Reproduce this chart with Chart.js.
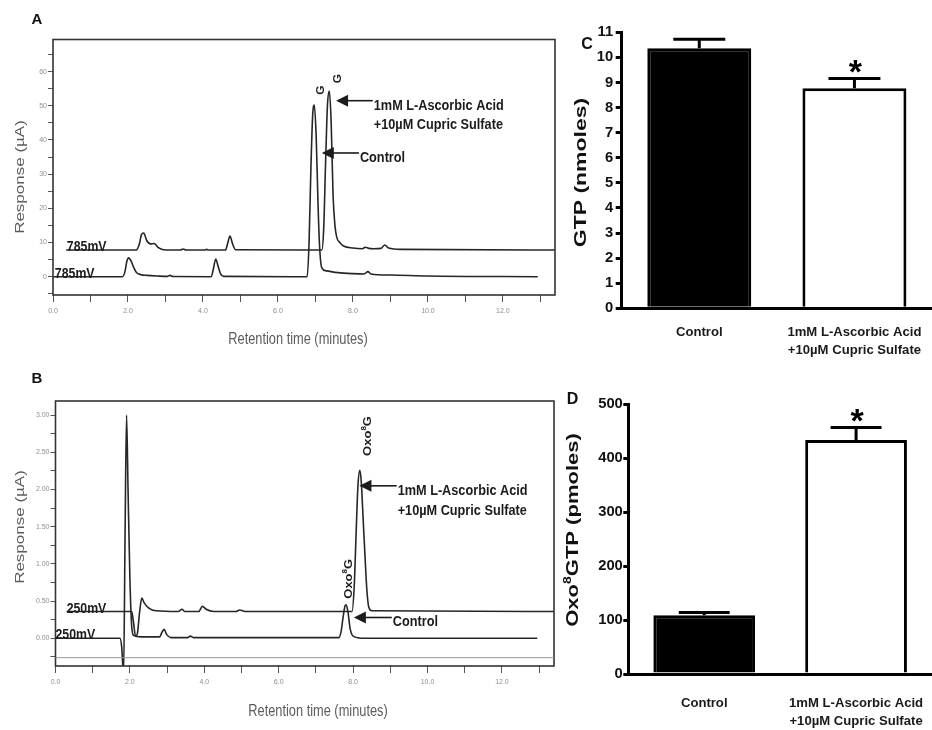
<!DOCTYPE html>
<html><head><meta charset="utf-8">
<script src="https://cdn.jsdelivr.net/npm/chart.js@4.4.1/dist/chart.umd.min.js"></script>
<style>
html,body{margin:0;padding:0;background:#fff;}
#fig{position:relative;width:932px;height:730px;overflow:hidden;background:#fff;}
#fig canvas{position:absolute;}
</style></head><body>
<div id="fig">
<canvas id="chartA" width="560" height="365" style="left:0;top:0;width:560px;height:365px"></canvas>
<canvas id="chartB" width="560" height="365" style="left:0;top:365px;width:560px;height:365px"></canvas>
<canvas id="chartC" width="372" height="365" style="left:560px;top:0;width:372px;height:365px"></canvas>
<canvas id="chartD" width="372" height="365" style="left:560px;top:365px;width:372px;height:365px"></canvas>
</div>
<script>
// ---------------- Panel A : chromatogram, 785 mV ----------------
const aControlTime = [0, 1.85, 1.92, 1.97, 2.02, 2.08, 2.15, 2.22, 2.35, 2.5, 2.8, 3.05, 3.12, 3.2, 4.22, 4.28, 4.34, 4.4, 4.47, 4.55, 6.78, 6.83, 6.88, 6.93, 6.97, 7.02, 7.07, 7.11, 7.17, 7.3, 7.6, 8.0, 8.3, 8.4, 8.48, 9.0, 10.0, 12.93];
const aControlResp = [0, 0, 1.5, 4.5, 5.5, 4.6, 2.8, 1.3, 0.6, 0.4, 0.2, 0.1, 0.4, 0.05, 0, 2.4, 5.2, 3.2, 0.8, 0.1, 0, 10, 32, 48, 50.2, 41, 21, 9, 2.6, 1.7, 1.2, 0.9, 0.8, 1.5, 0.8, 0.5, 0.2, 0];
const aTreatedTime = [0.35, 2.22, 2.3, 2.36, 2.42, 2.5, 2.6, 2.7, 2.8, 2.95, 3.4, 3.47, 3.55, 4.05, 4.1, 4.15, 4.6, 4.66, 4.72, 4.79, 4.87, 7.17, 7.22, 7.27, 7.32, 7.37, 7.42, 7.47, 7.52, 7.57, 7.65, 7.75, 8.0, 8.25, 8.33, 8.42, 8.55, 8.75, 8.85, 8.95, 9.3, 13.4];
const aTreatedResp = [7.8, 7.8, 9.4, 12.3, 12.8, 10.6, 9.6, 9.7, 8.6, 7.9, 7.8, 8.1, 7.8, 7.8, 8.0, 7.8, 7.8, 9.8, 11.9, 9.6, 7.9, 7.8, 14, 33, 50, 54.3, 45, 24, 15, 11.5, 10, 9, 8.4, 8.2, 8.6, 8.3, 8.2, 8.3, 9.3, 8.4, 8.0, 7.8];
const aYTicks = [-5, 0, 5, 10, 15, 20, 25, 30, 35, 40, 45, 50, 55, 60, 65];
const aXTicks = [0, 1, 2, 3, 4, 5, 6, 7, 8, 9, 10, 11, 12, 13];

// ---------------- Panel B : chromatogram, 250 mV ----------------
const bControlTime = [0, 1.73, 1.78, 1.83, 1.87, 1.91, 1.95, 2.0, 2.05, 2.1, 2.3, 2.8, 2.86, 2.92, 2.99, 3.1, 3.55, 3.62, 3.72, 7.62, 7.68, 7.73, 7.78, 7.81, 7.86, 7.92, 8.0, 8.3, 12.95];
const bControlResp = [0, 0, -0.12, -0.5, 1.4, 3.0, 2.0, 0.8, 0.15, 0.04, 0.02, 0.02, 0.08, 0.12, 0.05, 0.01, 0.01, 0.03, 0.01, 0.01, 0.1, 0.28, 0.43, 0.45, 0.36, 0.13, 0.03, 0, 0];
const bTreatedTime = [0.3, 2.05, 2.1, 2.15, 2.2, 2.26, 2.32, 2.38, 2.5, 2.7, 3.3, 3.4, 3.48, 3.85, 3.95, 4.05, 4.25, 4.85, 4.95, 5.1, 7.97, 8.03, 8.08, 8.13, 8.18, 8.22, 8.27, 8.32, 8.37, 8.42, 8.5, 13.4];
const bTreatedResp = [0.36, 0.36, 0.2, 0.03, 0.06, 0.35, 0.54, 0.48, 0.41, 0.37, 0.36, 0.39, 0.36, 0.36, 0.43, 0.39, 0.36, 0.36, 0.38, 0.36, 0.36, 0.7, 1.4, 2.05, 2.26, 2.1, 1.6, 1.1, 0.65, 0.42, 0.37, 0.36];
const bYTicks = [-0.25, 0, 0.25, 0.5, 0.75, 1.0, 1.25, 1.5, 1.75, 2.0, 2.25, 2.5, 2.75, 3.0];
const bXTicks = [0, 1, 2, 3, 4, 5, 6, 7, 8, 9, 10, 11, 12, 13];

// ---------------- Panels C and D : bar charts ----------------
const barLabels = [['Control'], ['1mM L-Ascorbic Acid', '+10µM Cupric Sulfate']];
const gtpMean = [10.36, 8.77];
const gtpSem = [0.36, 0.39];
const gtpSig = ['', '*'];
const oxoMean = [109, 434];
const oxoSem = [4.8, 23];
const oxoSig = ['', '*'];
const cYTicks = [0, 1, 2, 3, 4, 5, 6, 7, 8, 9, 10, 11];
const dYTicks = [0, 100, 200, 300, 400, 500];

// ---------------- fonts ----------------
const SANS = "'Liberation Sans', Arial, Helvetica, sans-serif";
const hasNarrow = (() => {
  const c = document.createElement('canvas').getContext('2d');
  const s = 'mmmmmmmmmmlli 0123456789 ABCDEF';
  c.font = "40px monospace"; const a = c.measureText(s).width;
  c.font = "40px 'Liberation Sans Narrow', monospace"; const b = c.measureText(s).width;
  return Math.abs(a - b) > 0.5;
})();
const TICKF = hasNarrow ? "'Liberation Sans Narrow', " + SANS : SANS;
const TK = hasNarrow ? 1 : 0.82;

function drawParts(ctx, parts, x, y, o) {
  const size = o.size, wt = o.bold ? 'bold ' : '';
  const fN = wt + size + 'px ' + SANS, fS = wt + Math.round(size * 0.62) + 'px ' + SANS;
  ctx.save();
  ctx.translate(x, y);
  if (o.rot) { ctx.rotate(o.rot); ctx.scale(1, o.sx || 1); } else { ctx.scale(o.sx || 1, 1); }
  ctx.fillStyle = o.color || '#1c1c1c';
  ctx.textAlign = 'left'; ctx.textBaseline = 'alphabetic';
  let w = 0;
  parts.forEach(([t, s]) => { ctx.font = s ? fS : fN; w += ctx.measureText(t).width; });
  let cx = o.align === 'left' ? 0 : -w / 2;
  const by = o.v === 'base' ? 0 : size * 0.36;
  parts.forEach(([t, s]) => { ctx.font = s ? fS : fN; ctx.fillText(t, cx, s ? by - size * 0.4 : by); cx += ctx.measureText(t).width; });
  ctx.restore();
}

function chromatogram(id, o) {
  const ds = (t, r) => ({
    data: t.map((x, i) => ({ x: x, y: r[i] })), showLine: true, borderColor: '#262626', borderWidth: 1.6,
    pointRadius: 0, cubicInterpolationMode: 'monotone', fill: false
  });
  return new Chart(document.getElementById(id), {
    type: 'scatter',
    data: { datasets: [ds(o.ctrlT, o.ctrlR), ds(o.trtT, o.trtR)] },
    options: {
      responsive: false, animation: false, events: [],
      layout: { padding: { top: o.padTop, right: o.padRight, left: 0, bottom: 0 } },
      plugins: { legend: { display: false }, tooltip: { enabled: false } },
      scales: {
        x: {
          type: 'linear', min: 0, max: o.xMax,
          afterBuildTicks: s => { s.ticks = o.xTicks.map(v => ({ value: v })); },
          afterFit: s => { s.height = o.xH; },
          ticks: { autoSkip: false, maxRotation: 0, color: '#8f8f8f', padding: 5, font: { family: TICKF, size: 8.5 * TK },
            callback: v => (v % 2 === 0 ? v.toFixed(1) : '') },
          grid: { drawOnChartArea: false, drawTicks: true, tickLength: 7, color: '#555', lineWidth: 1 },
          border: { display: false }
        },
        y: {
          type: 'linear', min: o.yMin, max: o.yMax,
          afterBuildTicks: s => { s.ticks = o.yTicks.map(v => ({ value: v })); },
          afterFit: s => { s.width = o.yW; },
          ticks: { autoSkip: false, color: '#8f8f8f', padding: 1, font: { family: TICKF, size: 8.5 * TK }, callback: o.yFmt },
          grid: { drawOnChartArea: false, drawTicks: true, tickLength: 5, color: '#555', lineWidth: 1 },
          border: { display: false }
        }
      }
    },
    plugins: [{
      id: 'deco' + id,
      afterDraw(chart) {
        const { ctx, chartArea: ca, scales: { x, y } } = chart;
        ctx.save();
        ctx.strokeStyle = '#333'; ctx.lineWidth = 1.6;
        ctx.strokeRect(ca.left, ca.top, ca.right - ca.left, ca.bottom - ca.top);
        if (o.refLine != null) {
          const py = y.getPixelForValue(o.refLine);
          ctx.strokeStyle = '#999'; ctx.lineWidth = 1;
          ctx.beginPath(); ctx.moveTo(ca.left, py); ctx.lineTo(ca.right, py); ctx.stroke();
        }
        o.vLabels.forEach(l => drawParts(ctx, [[l.t, 0]], x.getPixelForValue(l.x), y.getPixelForValue(l.y) + 1,
          { size: 15, bold: true, sx: 0.82, align: 'left', v: 'base' }));
        o.peaks.forEach(p => drawParts(ctx, p.parts, x.getPixelForValue(p.x), y.getPixelForValue(p.y),
          { size: p.size, bold: true, rot: -Math.PI / 2, sx: 0.85 }));
        o.arrows.forEach(a => {
          const tx = x.getPixelForValue(a.tipX), ty = y.getPixelForValue(a.tipY), ex = x.getPixelForValue(a.tailX);
          ctx.strokeStyle = '#1c1c1c'; ctx.fillStyle = '#1c1c1c'; ctx.lineWidth = 1.6;
          ctx.beginPath(); ctx.moveTo(tx + 10, ty); ctx.lineTo(ex, ty); ctx.stroke();
          ctx.beginPath(); ctx.moveTo(tx, ty); ctx.lineTo(tx + 12, ty - 6); ctx.lineTo(tx + 12, ty + 6); ctx.closePath(); ctx.fill();
          a.lines.forEach((s, k) => drawParts(ctx, [[s, 0]], ex + 1, ty + a.dy + k * 19.5, { size: 15.5, bold: true, sx: 0.82, align: 'left' }));
        });
        drawParts(ctx, [['Response (µA)', 0]], o.yTitle.x, o.yTitle.y, { size: 17, rot: -Math.PI / 2, sx: 0.78, color: '#5c5c5c' });
        drawParts(ctx, [['Retention time (minutes)', 0]], o.xTitle.x, o.xTitle.y, { size: 16, sx: 0.8, color: '#5c5c5c' });
        drawParts(ctx, [[o.letter.t, 0]], o.letter.x, o.letter.y, { size: 15, bold: true, color: '#111' });
        ctx.restore();
      }
    }]
  });
}

function barPanel(id, o) {
  return new Chart(document.getElementById(id), {
    type: 'bar',
    data: {
      labels: barLabels,
      datasets: [{ data: o.mean, backgroundColor: ['#000000', '#ffffff'], borderColor: '#000000', borderWidth: 3,
        borderSkipped: 'start', barPercentage: 0.67, categoryPercentage: 1 }]
    },
    options: {
      responsive: false, animation: false, events: [],
      layout: { padding: { top: o.padTop, left: 0, right: 0, bottom: 0 } },
      plugins: { legend: { display: false }, tooltip: { enabled: false } },
      scales: {
        x: {
          type: 'category', offset: true, z: 1,
          afterFit: s => { s.height = o.xH; s.paddingLeft = 0; s.paddingRight = 0; },
          grid: { display: true, drawOnChartArea: false, drawTicks: false },
          border: { display: true, color: '#000', width: 3 },
          ticks: { autoSkip: false, maxRotation: 0, color: '#1a1a1a', padding: o.xPad,
            font: { family: TICKF, size: 16 * TK, weight: 'bold', lineHeight: '18.4px' } }
        },
        y: {
          type: 'linear', min: 0, max: o.yMax, z: 1,
          afterBuildTicks: s => { s.ticks = o.yTicks.map(v => ({ value: v })); },
          afterFit: s => { s.width = o.yW; },
          grid: { drawOnChartArea: false, drawTicks: true, tickLength: o.tickLen, color: '#000', lineWidth: 3 },
          border: { display: true, color: '#000', width: 3 },
          ticks: { color: '#111', padding: o.yPad, font: { family: TICKF, size: 18 * TK, weight: 'bold' } }
        }
      }
    },
    plugins: [{
      id: 'err' + id,
      afterDatasetsDraw(chart) {
        const { ctx, scales: { y } } = chart;
        const meta = chart.getDatasetMeta(0);
        ctx.save();
        ctx.strokeStyle = '#000'; ctx.fillStyle = '#000'; ctx.lineWidth = 3;
        meta.data.forEach((bar, i) => {
          const x = bar.x, yTop = y.getPixelForValue(o.mean[i] + o.sem[i]), yMean = y.getPixelForValue(o.mean[i]);
          const half = bar.width * 0.25;
          ctx.beginPath(); ctx.moveTo(x, yMean); ctx.lineTo(x, yTop);
          ctx.moveTo(x - half, yTop); ctx.lineTo(x + half, yTop); ctx.stroke();
          if (o.sig[i]) {
            ctx.font = 'bold 34px ' + SANS; ctx.textAlign = 'center'; ctx.textBaseline = 'alphabetic';
            ctx.fillText(o.sig[i], x + 1, yTop - 15 + 34 * 0.58);
          }
        });
        ctx.restore();
      },
      afterDraw(chart) {
        const ctx = chart.ctx;
        drawParts(ctx, o.yTitle.parts, o.yTitle.x, o.yTitle.y, { size: o.yTitle.size, bold: true, rot: -Math.PI / 2, sx: 0.75, color: '#111' });
        drawParts(ctx, [[o.letter.t, 0]], o.letter.x, o.letter.y, { size: 16, bold: true, color: '#111' });
      }
    }]
  });
}

chromatogram('chartA', {
  ctrlT: aControlTime, ctrlR: aControlResp, trtT: aTreatedTime, trtR: aTreatedResp,
  xMax: 13.39, yMin: -5.35, yMax: 69.4, xTicks: aXTicks, yTicks: aYTicks,
  padTop: 39.5, padRight: 5, xH: 70, yW: 53,
  yFmt: v => (v % 10 === 0 ? String(v) : ''),
  letter: { t: 'A', x: 37, y: 18.7 },
  yTitle: { x: 19.5, y: 177 }, xTitle: { x: 298, y: 338 },
  vLabels: [{ t: '785mV', x: 0.37, y: 7.8 }, { t: '785mV', x: 0.05, y: 0 }],
  peaks: [{ parts: [['G', 0]], x: 7.12, y: 54.6, size: 12 }, { parts: [['G', 0]], x: 7.58, y: 58.0, size: 12 }],
  arrows: [
    { tipX: 7.55, tipY: 51.5, tailX: 8.53, lines: ['1mM L-Ascorbic Acid', '+10µM Cupric Sulfate'], dy: 3.5 },
    { tipX: 7.17, tipY: 36.2, tailX: 8.16, lines: ['Control'], dy: 3.5 }
  ],
  refLine: null
});

chromatogram('chartB', {
  ctrlT: bControlTime, ctrlR: bControlResp, trtT: bTreatedTime, trtR: bTreatedResp,
  xMax: 13.4, yMin: -0.372, yMax: 3.19, xTicks: bXTicks, yTicks: bYTicks,
  padTop: 36, padRight: 6, xH: 64, yW: 55.5,
  yFmt: v => (v >= 0 && Math.abs(v * 2 - Math.round(v * 2)) < 1e-9 ? v.toFixed(2) : ''),
  letter: { t: 'B', x: 37, y: 13 },
  yTitle: { x: 19, y: 162 }, xTitle: { x: 318, y: 345 },
  vLabels: [{ t: '250mV', x: 0.3, y: 0.36 }, { t: '250mV', x: 0.0, y: 0 }],
  peaks: [{ parts: [['Oxo', 0], ['8', 1], ['G', 0]], x: 7.855, y: 0.80, size: 13 },
          { parts: [['Oxo', 0], ['8', 1], ['G', 0]], x: 8.37, y: 2.72, size: 13 }],
  arrows: [
    { tipX: 8.17, tipY: 2.05, tailX: 9.17, lines: ['1mM L-Ascorbic Acid', '+10µM Cupric Sulfate'], dy: 4 },
    { tipX: 8.02, tipY: 0.28, tailX: 9.04, lines: ['Control'], dy: 3 }
  ],
  refLine: -0.26
});

barPanel('chartC', {
  mean: gtpMean, sem: gtpSem, sig: gtpSig, yMax: 11, yTicks: cYTicks,
  padTop: 32.3, yW: 61.7, xH: 56.7, xPad: 14.5, yPad: 2.5, tickLen: 6,
  letter: { t: 'C', x: 27, y: 43.5 },
  yTitle: { parts: [['GTP (nmoles)', 0]], x: 20, y: 172.5, size: 23 }
});

barPanel('chartD', {
  mean: oxoMean, sem: oxoSem, sig: oxoSig, yMax: 500, yTicks: dYTicks,
  padTop: 39.3, yW: 68.3, xH: 56, xPad: 19.8, yPad: 0.5, tickLen: 5,
  letter: { t: 'D', x: 12.5, y: 33.5 },
  yTitle: { parts: [['Oxo', 0], ['8', 1], ['GTP (pmoles)', 0]], x: 11.7, y: 165, size: 22 }
});
</script>
</body></html>
